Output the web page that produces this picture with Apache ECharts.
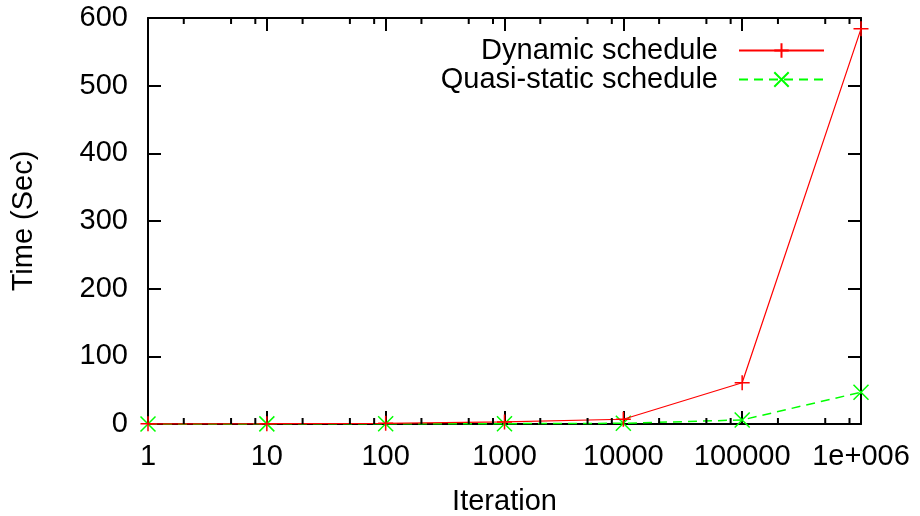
<!DOCTYPE html>
<html>
<head>
<meta charset="utf-8">
<script src="https://cdn.jsdelivr.net/npm/echarts@6/dist/echarts.min.js"></script>
<style>html,body{margin:0;padding:0;background:#fff}#c{width:920px;height:516px}</style>
</head>
<body>
<div id="c"></div>
<script>
var iterations = [1, 10, 100, 1000, 10000, 100000, 1000000];
var dynamicTimes = [0.2, 0.5, 1, 3, 7, 61, 584];
var quasiTimes = [0.1, 0.2, 0.3, 0.5, 1, 6, 47];
var xTickLabels = ['1', '10', '100', '1000', '10000', '100000', '1e+006'];
var minorTickValues = [2, 5, 8, 20, 50, 80, 200, 500, 800, 2000, 5000, 8000,
  20000, 50000, 80000, 200000, 500000, 800000];
var seriesNames = ['Dynamic schedule', 'Quasi-static schedule'];

var FONT = '"Liberation Sans", Arial, Helvetica, sans-serif';
var FS = 29;
var chart = echarts.init(document.getElementById('c'), null, {renderer: 'canvas'});

function pairs(xs, ys) { return xs.map(function (x, i) { return [x, ys[i]]; }); }

var axisLineStyle = {show: true, onZero: false, lineStyle: {color: '#000', width: 2}};
var xAxisBase = {
  type: 'log', logBase: 10, min: 1, max: 1000000,
  axisLine: axisLineStyle,
  axisTick: {show: true, inside: true, length: 13, lineStyle: {color: '#000', width: 2}},
  splitLine: {show: false}, minorTick: {show: false}
};
var yAxisBase = {
  type: 'value', min: 0, max: 600, interval: 100,
  axisLine: axisLineStyle,
  axisTick: {show: true, inside: true, length: 13, lineStyle: {color: '#000', width: 2}},
  splitLine: {show: false}
};

var option = {
  backgroundColor: '#fff',
  animation: false,
  grid: {left: 148, right: 59, top: 18, bottom: 92, show: false, containLabel: false, outerBoundsMode: 'none'},
  legend: {
    data: seriesNames,
    orient: 'vertical',
    right: 90, top: 31,
    align: 'right',
    itemWidth: 85, itemHeight: 18, itemGap: 0,
    textStyle: {fontFamily: FONT, fontSize: FS, color: '#000', padding: [0, 16, 0, 0]},
    selectedMode: false
  },
  xAxis: [
    Object.assign({}, xAxisBase, {
      position: 'bottom',
      name: 'Iteration', nameLocation: 'middle', nameGap: 63,
      nameTextStyle: {fontFamily: FONT, fontSize: FS, color: '#000'},
      axisLabel: {
        fontFamily: FONT, fontSize: FS, color: '#000', margin: 18,
        formatter: function (v) { return xTickLabels[Math.round(Math.log10(v))]; }
      }
    }),
    Object.assign({}, xAxisBase, {position: 'top', axisLabel: {show: false}})
  ],
  yAxis: [
    Object.assign({}, yAxisBase, {
      position: 'left',
      name: 'Time (Sec)', nameLocation: 'middle', nameGap: 110,
      nameTextStyle: {fontFamily: FONT, fontSize: FS, color: '#000'},
      axisLabel: {fontFamily: FONT, fontSize: FS, color: '#000', margin: 20}
    }),
    Object.assign({}, yAxisBase, {position: 'right', axisLabel: {show: false}})
  ],
  series: [
    {
      name: seriesNames[0], type: 'line',
      data: pairs(iterations, dynamicTimes),
      symbol: 'path://M-1,0 L1,0 M0,-1 L0,1', symbolSize: 15,
      lineStyle: {color: '#ff0000', width: 1.2},
      itemStyle: {color: '#ff0000', borderColor: '#ff0000', borderWidth: 1.5},
      clip: false, z: 5
    },
    {
      name: seriesNames[1], type: 'line',
      data: pairs(iterations, quasiTimes),
      symbol: 'path://M-1,-1 L1,1 M-1,1 L1,-1', symbolSize: 15,
      lineStyle: {color: '#00ff00', width: 1.5, type: [9, 6]},
      itemStyle: {color: '#00ff00', borderColor: '#00ff00', borderWidth: 1.5},
      clip: false, z: 4
    },
    {
      name: 'minorTicks', type: 'custom', silent: true, z: 6,
      data: minorTickValues.map(function (v) { return [v]; }),
      encode: {x: 0},
      renderItem: function (params, api) {
        var v = api.value(0);
        var b = api.coord([v, 0]);
        var t = api.coord([v, 600]);
        var st = {stroke: '#000', lineWidth: 2};
        return {
          type: 'group',
          children: [
            {type: 'line', shape: {x1: b[0], y1: b[1], x2: b[0], y2: b[1] - 6}, style: st},
            {type: 'line', shape: {x1: t[0], y1: t[1], x2: t[0], y2: t[1] + 6}, style: st}
          ]
        };
      }
    }
  ]
};
chart.setOption(option);
</script>
</body>
</html>
